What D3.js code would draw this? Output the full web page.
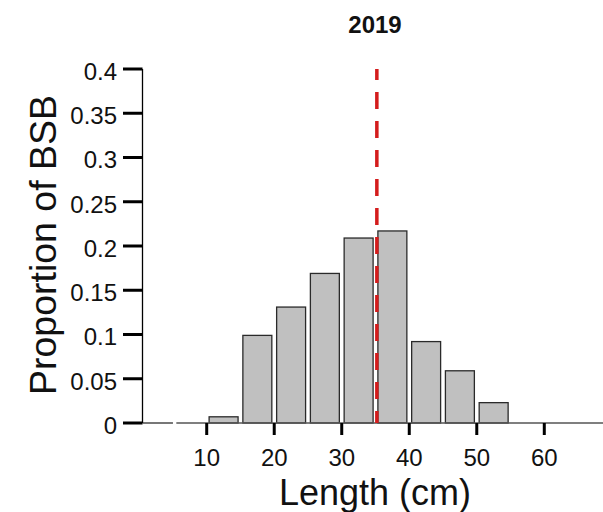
<!DOCTYPE html>
<html>
<head>
<meta charset="utf-8">
<script src="https://cdn.jsdelivr.net/npm/d3@7"></script>
<style>
  body { margin: 0; background: #fff; }
  svg { display: block; font-family: "Liberation Sans", Arial, sans-serif; }
</style>
</head>
<body>
<svg id="chart" width="603" height="512"></svg>
<script>
const binStarts = [10, 15, 20, 25, 30, 35, 40, 45, 50];
const binWidth = 5;
const proportions = [0.007, 0.099, 0.131, 0.169, 0.209, 0.217, 0.092, 0.059, 0.023];
const meanLength = 35.2;
const xTicks = [10, 20, 30, 40, 50, 60];
const yTicks = [0, 0.05, 0.1, 0.15, 0.2, 0.25, 0.3, 0.35, 0.4];
const yTickLabels = ["0", "0.05", "0.1", "0.15", "0.2", "0.25", "0.3", "0.35", "0.4"];
const titleText = "2019";
const xTitle = "Length (cm)";
const yTitle = "Proportion of BSB";

const svg = d3.select("#chart");
const x = d3.scaleLinear().domain([0, 70]).range([139.2, 611.8]);
const y = d3.scaleLinear().domain([0, 0.4]).range([423, 69]);
const yAxisX = 142.5;

// bars
const inset = 2.4;
svg.append("g").selectAll("rect").data(binStarts).join("rect")
  .attr("x", d => x(d) + inset)
  .attr("width", d => x(d + binWidth) - x(d) - 2 * inset)
  .attr("y", (d, i) => y(proportions[i]))
  .attr("height", (d, i) => y(0) - y(proportions[i]))
  .attr("fill", "#c0c0c0")
  .attr("stroke", "#2a2a2a")
  .attr("stroke-width", 1.3);

// x baseline (two segments as in the reference)
svg.append("line").attr("x1", yAxisX).attr("x2", x(5)).attr("y1", y(0)).attr("y2", y(0))
  .attr("stroke", "#555").attr("stroke-width", 1.6);
svg.append("line").attr("x1", x(5.5)).attr("x2", x(70)).attr("y1", y(0)).attr("y2", y(0))
  .attr("stroke", "#555").attr("stroke-width", 1.6);

// x ticks
const xg = svg.append("g");
xg.selectAll("line").data(xTicks).join("line")
  .attr("x1", d => x(d)).attr("x2", d => x(d))
  .attr("y1", y(0)).attr("y2", y(0) + 12)
  .attr("stroke", "#000").attr("stroke-width", 3);
xg.selectAll("text").data(xTicks).join("text")
  .attr("x", d => x(d)).attr("y", 466)
  .attr("text-anchor", "middle")
  .attr("font-size", 24)
  .attr("fill", "#111")
  .text(d => d);

// y axis
svg.append("line").attr("x1", yAxisX).attr("x2", yAxisX).attr("y1", y(0)).attr("y2", y(0.4))
  .attr("stroke", "#000").attr("stroke-width", 1.3);
const yg = svg.append("g");
yg.selectAll("line").data(yTicks).join("line")
  .attr("x1", 123).attr("x2", yAxisX)
  .attr("y1", d => y(d)).attr("y2", d => y(d))
  .attr("stroke", "#000").attr("stroke-width", 3);
yg.selectAll("text").data(yTicks).join("text")
  .attr("x", 117).attr("y", d => y(d))
  .attr("dy", "0.45em")
  .attr("text-anchor", "end")
  .attr("font-size", 24)
  .attr("fill", "#111")
  .text((d, i) => yTickLabels[i]);

// mean line
svg.append("line")
  .attr("x1", x(meanLength)).attr("x2", x(meanLength))
  .attr("y1", y(0.4)).attr("y2", y(0))
  .attr("stroke", "#d41c1c").attr("stroke-width", 3.5)
  .attr("stroke-dasharray", "17 12")
  .attr("stroke-dashoffset", 6);

// titles
svg.append("text").attr("x", 375).attr("y", 33)
  .attr("text-anchor", "middle").attr("font-size", 24).attr("font-weight", "bold")
  .attr("fill", "#111").text(titleText);
svg.append("text").attr("x", 375).attr("y", 505)
  .attr("text-anchor", "middle").attr("font-size", 36)
  .attr("fill", "#111").text(xTitle);
svg.append("text")
  .attr("transform", "translate(56,245) rotate(-90)")
  .attr("text-anchor", "middle").attr("font-size", 37.5)
  .attr("fill", "#111").text(yTitle);
</script>
</body>
</html>
